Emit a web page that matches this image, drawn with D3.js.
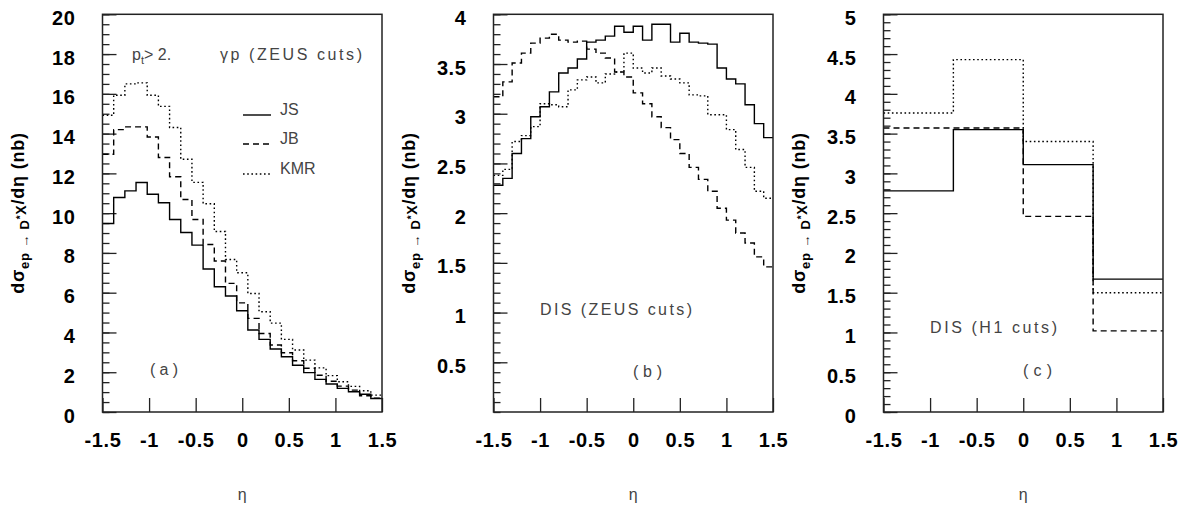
<!DOCTYPE html>
<meta charset="utf-8">
<html>
  <head>
    <style>
      body { margin: 0; background: #fff; }
      .frame { fill: none; stroke: #222; stroke-width: 1.5px; }
      .axis line { stroke: #222; stroke-width: 1.3px; }
      .axis path { display: none; }
      .axis text {
        font-family: "Liberation Sans", Arial, sans-serif;
        font-weight: bold;
        font-size: 20px;
        letter-spacing: 0.6px;
        fill: #000;
      }
      .ytitle {
        font-family: "Liberation Sans", Arial, sans-serif;
        font-weight: bold;
        font-size: 18px;
        letter-spacing: 0.8px;
        fill: #000;
      }
      .note {
        font-family: "Liberation Sans", Arial, sans-serif;
        font-size: 16px;
        fill: #444;
      }
      .hist { fill: none; stroke: #000; stroke-width: 1.4px; }
      .hist.JB { stroke-dasharray: 6 4; }
      .hist.KMR { stroke-dasharray: 1.6 2.6; }
    </style>
    <script src="https://cdn.jsdelivr.net/npm/d3@7"></script>
  </head>
  <body>
    <div id="chart"></div>
    <script>
    var etaTicks = [-1.5, -1, -0.5, 0, 0.5, 1, 1.5];
    var series = ["JS", "JB", "KMR"];

    // (a) photoproduction, 25 bins of 0.12
    var edgesA = d3.range(26).map(function(i) { return -1.5 + i * 0.12; });
    var jsA  = [9.48, 10.79, 11.12, 11.54, 10.95, 10.52, 9.68, 9.03, 8.39, 7.19, 6.30, 5.83, 5.09, 4.12, 3.65, 3.17, 2.78, 2.35, 1.98, 1.64, 1.41, 1.19, 1.02, 0.89, 0.68];
    var jbA  = [12.96, 14.20, 14.34, 14.34, 13.83, 12.80, 11.83, 10.69, 9.68, 8.42, 7.59, 6.47, 5.49, 4.71, 3.95, 3.37, 2.98, 2.58, 2.20, 1.85, 1.55, 1.30, 1.10, 0.82, 0.70];
    var kmrA = [14.92, 15.93, 16.50, 16.55, 15.93, 15.37, 14.31, 12.71, 11.55, 10.47, 9.08, 7.67, 7.00, 5.96, 5.04, 4.47, 3.65, 3.12, 2.61, 2.22, 1.83, 1.52, 1.29, 1.07, 0.85];
    var yTicksA = [0, 2, 4, 6, 8, 10, 12, 14, 16, 18, 20];

    // (b) DIS ZEUS cuts, 30 bins of 0.1
    var edgesB = d3.range(31).map(function(i) { return -1.5 + i * 0.1; });
    var jsB  = [2.28, 2.35, 2.60, 2.75, 2.97, 3.07, 3.22, 3.41, 3.46, 3.55, 3.72, 3.74, 3.78, 3.88, 3.82, 3.88, 3.74, 3.90, 3.90, 3.72, 3.81, 3.72, 3.71, 3.70, 3.46, 3.35, 3.30, 3.09, 2.90, 2.76];
    var jbB  = [3.17, 3.32, 3.51, 3.61, 3.71, 3.76, 3.80, 3.74, 3.72, 3.73, 3.65, 3.61, 3.56, 3.42, 3.37, 3.21, 3.10, 2.97, 2.86, 2.74, 2.60, 2.46, 2.34, 2.22, 2.05, 1.93, 1.80, 1.70, 1.56, 1.46];
    var kmrB = [2.38, 2.44, 2.72, 2.78, 2.87, 3.10, 3.09, 3.07, 3.24, 3.34, 3.37, 3.31, 3.40, 3.42, 3.61, 3.46, 3.41, 3.46, 3.38, 3.35, 3.31, 3.19, 3.18, 2.99, 2.99, 2.84, 2.64, 2.46, 2.22, 2.15];
    var yTicksB = [0.5, 1, 1.5, 2, 2.5, 3, 3.5, 4];

    // (c) DIS H1 cuts, 4 bins
    var edgesC = [-1.5, -0.75, 0, 0.75, 1.5];
    var jsC  = [2.78, 3.55, 3.11, 1.67];
    var jbC  = [3.57, 3.57, 2.46, 1.02];
    var kmrC = [3.76, 4.43, 3.40, 1.50];
    var yTicksC = [0, 0.5, 1, 1.5, 2, 2.5, 3, 3.5, 4, 4.5, 5];

    var W = 1189, H = 514,
        plotTop = 14.3, plotBottom = 412, pw = 279.5;

    var panels = [
      { left: 102.5, edges: edgesA, vals: [jsA, jbA, kmrA], ymax: 20, major: yTicksA, minor: 0.5 },
      { left: 493.5, edges: edgesB, vals: [jsB, jbB, kmrB], ymax: 4,  major: yTicksB, minor: 0.1 },
      { left: 883.5, edges: edgesC, vals: [jsC, jbC, kmrC], ymax: 5,  major: yTicksC, minor: 0.1 }
    ];

    var svg = d3.select("#chart").append("svg")
        .attr("width", W)
        .attr("height", H);

    panels.forEach(function(p) {
      var x = d3.scaleLinear().domain([-1.5, 1.5]).range([p.left, p.left + pw]);
      var y = d3.scaleLinear().domain([0, p.ymax]).range([plotBottom, plotTop]);
      var g = svg.append("g");

      // minor ticks
      var nMinor = Math.round(p.ymax / p.minor);
      var minorVals = d3.range(nMinor + 1).map(function(i) { return i * p.minor; });
      g.append("g")
        .attr("class", "axis")
        .attr("transform", "translate(" + p.left + ",0)")
        .call(d3.axisLeft(y).tickValues(minorVals).tickSize(-7).tickFormat(""));

      // major ticks + labels
      var ya = g.append("g")
        .attr("class", "axis")
        .attr("transform", "translate(" + p.left + ",0)")
        .call(d3.axisLeft(y).tickValues(p.major).tickSize(-14).tickPadding(27)
              .tickFormat(function(d) { return String(d); }));
      ya.selectAll("text").attr("dy", "0.5em");

      g.append("g")
        .attr("class", "axis")
        .attr("transform", "translate(0," + plotBottom + ")")
        .call(d3.axisBottom(x).tickValues(etaTicks).tickSize(-14).tickPadding(21)
              .tickFormat(function(d) { return String(d); }));

      // histograms
      var line = d3.line()
          .x(function(d) { return x(d[0]); })
          .y(function(d) { return y(d[1]); })
          .curve(d3.curveStepAfter);

      p.vals.forEach(function(v, s) {
        var pts = v.map(function(val, i) { return [p.edges[i], val]; });
        pts.push([p.edges[p.edges.length - 1], v[v.length - 1]]);
        g.append("path")
          .attr("class", "hist " + series[s])
          .attr("d", line(pts));
      });

      g.append("rect")
        .attr("class", "frame")
        .attr("x", p.left)
        .attr("y", plotTop)
        .attr("width", pw)
        .attr("height", plotBottom - plotTop);

      // y title
      var t = g.append("text")
        .attr("class", "ytitle")
        .attr("transform", "translate(" + (p.left - 79) + ",213) rotate(-90)")
        .style("text-anchor", "middle");
      t.append("tspan").text("dσ");
      t.append("tspan").attr("dy", 5).style("font-size", "13px").text("ep → D");
      t.append("tspan").attr("dy", -5).style("font-size", "10px").text("*");
      t.append("tspan").attr("dy", 2).style("font-size", "14px").text("X");
      t.append("tspan").attr("dy", -2).text("/dη (nb)");

      // x title
      g.append("text")
        .attr("class", "note")
        .attr("x", x(0))
        .attr("y", 500)
        .style("text-anchor", "middle")
        .text("η");
    });

    function note(px, py, str, len) {
      var tx = svg.append("text")
        .attr("class", "note")
        .attr("x", px)
        .attr("y", py)
        .text(str);
      if (len) tx.attr("textLength", len).attr("lengthAdjust", "spacing");
      return tx;
    }

    // panel (a) labels and legend
    var pt = svg.append("text").attr("class", "note").attr("x", 132).attr("y", 60);
    pt.append("tspan").text("p");
    pt.append("tspan").attr("dy", 4).style("font-size", "11px").text("t");
    pt.append("tspan").attr("dy", -4).text("> 2.");
    note(220, 60, "γp (ZEUS cuts)", 142);
    note(150, 375, "(a)", 28);

    var legY = [115, 144, 174];
    series.forEach(function(s, i) {
      svg.append("line")
        .attr("class", "hist " + s)
        .attr("x1", 243).attr("x2", 271)
        .attr("y1", legY[i]).attr("y2", legY[i]);
      note(280, legY[i], s);
    });

    note(540, 315, "DIS (ZEUS cuts)", 152);
    note(633, 377, "(b)", 29);
    note(930, 333, "DIS (H1 cuts)", 127);
    note(1023, 376, "(c)", 29);
    </script>
  </body>
</html>
